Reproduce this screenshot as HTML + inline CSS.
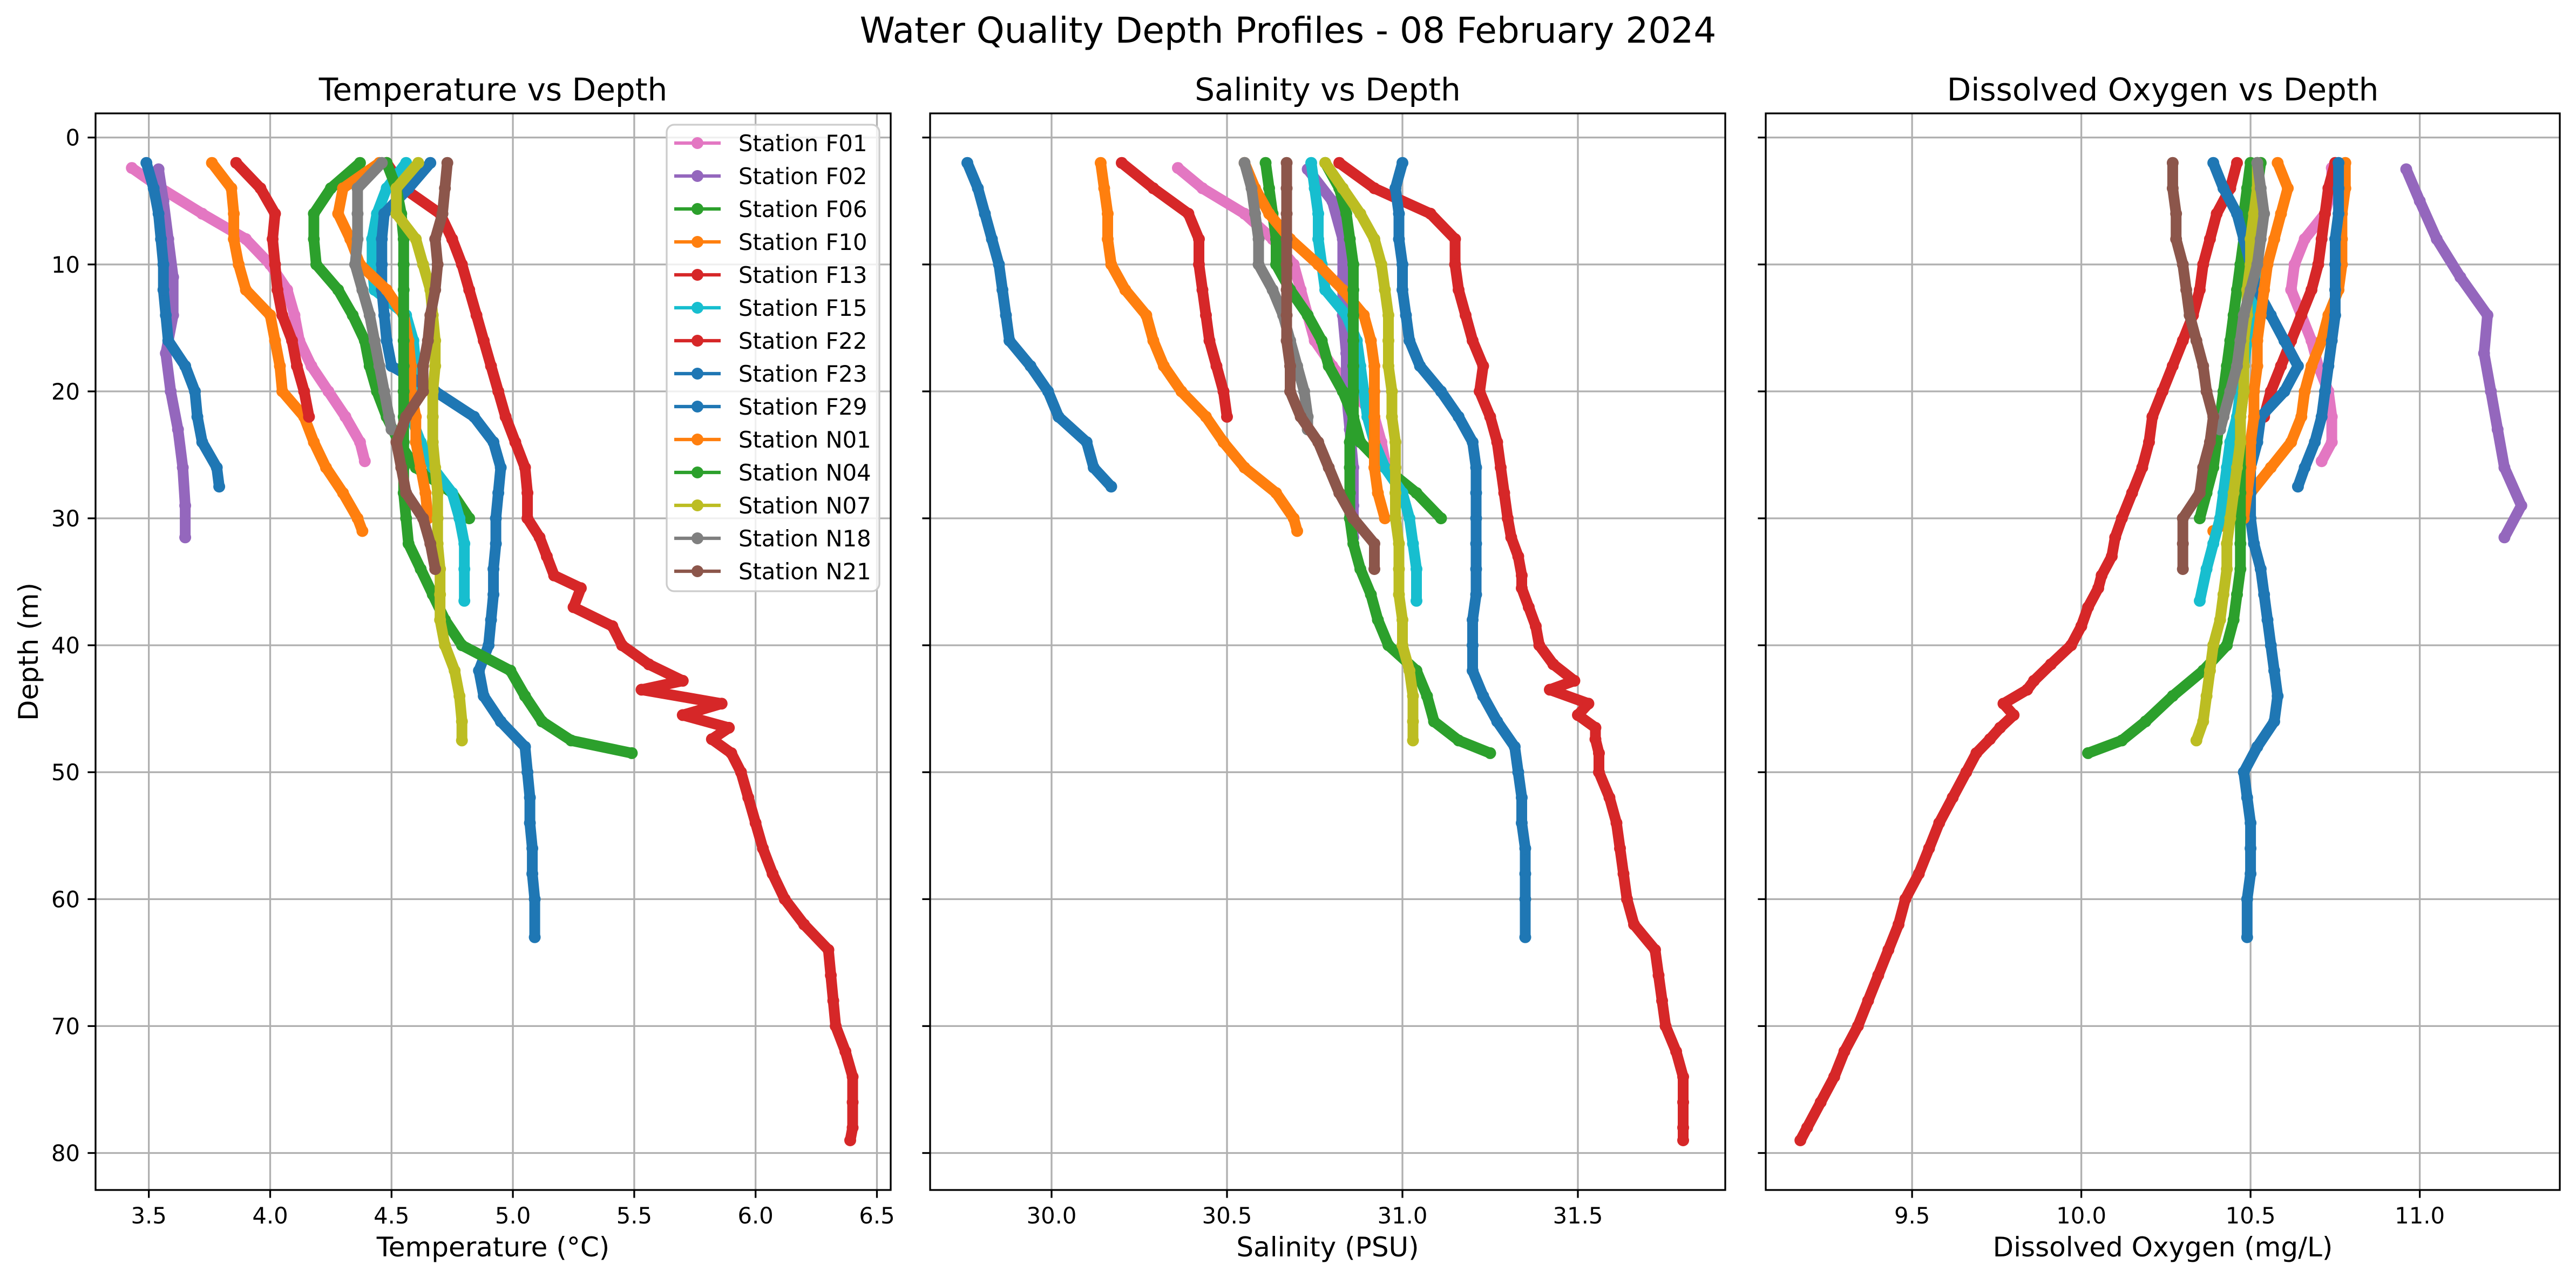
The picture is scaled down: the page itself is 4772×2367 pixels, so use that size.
<!DOCTYPE html>
<html><head><meta charset="utf-8"><title>Water Quality Depth Profiles</title>
<style>html,body{margin:0;padding:0;background:#fff}svg{display:block}text{font-family:"DejaVu Sans","Liberation Sans",sans-serif}</style>
</head><body>
<svg id="chart" xmlns="http://www.w3.org/2000/svg" width="4772" height="2367" viewBox="0 0 4772 2367"></svg>
<script>
const stationNames = ["Station F01","Station F02","Station F06","Station F10","Station F13","Station F15","Station F22","Station F23","Station F29","Station N01","Station N04","Station N07","Station N18","Station N21"];
const depthF01=[2.4,4,6,8,10,12,14,16,18,20,22,24,25.5];
const tempF01=[3.43,3.55,3.72,3.9,4.0,4.07,4.1,4.12,4.17,4.24,4.31,4.37,4.39];
const salF01=[30.36,30.43,30.55,30.63,30.69,30.71,30.73,30.75,30.8,30.86,30.92,30.94,30.95];
const doF01=[10.74,10.74,10.72,10.66,10.63,10.62,10.65,10.68,10.7,10.73,10.74,10.74,10.71];
const depthF02=[2.5,5,8,11,14,17,20,23,26,29,31.5];
const tempF02=[3.54,3.56,3.58,3.6,3.6,3.57,3.59,3.62,3.64,3.65,3.65];
const salF02=[30.73,30.8,30.83,30.83,30.83,30.84,30.84,30.85,30.86,30.86,30.86];
const doF02=[10.96,11.0,11.05,11.12,11.2,11.19,11.21,11.23,11.25,11.3,11.25];
const depthF06=[2,4,6,8,10,12,14,16,18,20,22,24,26,28,30];
const tempF06=[4.37,4.25,4.18,4.18,4.19,4.28,4.34,4.39,4.41,4.44,4.48,4.53,4.6,4.75,4.82];
const salF06=[30.61,30.62,30.63,30.64,30.64,30.68,30.73,30.77,30.79,30.83,30.86,30.88,30.95,31.04,31.11];
const doF06=[10.5,10.49,10.48,10.48,10.47,10.46,10.45,10.44,10.43,10.42,10.41,10.4,10.39,10.37,10.35];
const depthF10=[2,4,6,8,10,12,14,16,18,20,22,24,26,28,30,31];
const tempF10=[3.76,3.84,3.85,3.85,3.87,3.9,4.0,4.02,4.04,4.05,4.14,4.18,4.23,4.3,4.36,4.38];
const salF10=[30.14,30.15,30.16,30.16,30.17,30.21,30.27,30.29,30.32,30.37,30.44,30.49,30.55,30.64,30.69,30.7];
const doF10=[10.78,10.78,10.77,10.77,10.77,10.76,10.73,10.71,10.68,10.66,10.65,10.62,10.56,10.5,10.45,10.39];
const depthF13=[2,4,6,8,10,12,14,16,18,20,22,24,26,28,30,31.5,33,34.5,35.5,37,38.5,40,41.5,42.8,43.5,44.6,45.5,46.5,47.4,48.5,50,52,54,56,58,60,62,64,66,68,70,72,74,76,78,79];
const tempF13=[4.48,4.55,4.7,4.75,4.79,4.82,4.85,4.88,4.91,4.94,4.97,5.01,5.05,5.06,5.06,5.11,5.14,5.17,5.28,5.25,5.41,5.45,5.56,5.7,5.53,5.86,5.7,5.89,5.82,5.9,5.94,5.97,6.0,6.03,6.07,6.12,6.2,6.3,6.31,6.32,6.33,6.37,6.4,6.4,6.4,6.39];
const salF13=[30.82,30.92,31.08,31.15,31.15,31.16,31.18,31.2,31.23,31.22,31.25,31.27,31.28,31.29,31.3,31.31,31.33,31.34,31.34,31.36,31.38,31.39,31.43,31.49,31.42,31.53,31.5,31.55,31.55,31.56,31.56,31.59,31.61,31.62,31.63,31.64,31.66,31.72,31.73,31.74,31.75,31.78,31.8,31.8,31.8,31.8];
const doF13=[10.46,10.44,10.4,10.38,10.36,10.35,10.33,10.3,10.27,10.24,10.21,10.2,10.18,10.15,10.12,10.1,10.09,10.06,10.05,10.02,10.0,9.97,9.91,9.86,9.84,9.77,9.8,9.76,9.73,9.69,9.66,9.62,9.58,9.55,9.52,9.48,9.46,9.43,9.4,9.37,9.34,9.3,9.27,9.23,9.19,9.17];
const depthF15=[2,4,6,8,10,12,14,16,18,20,22,24,26,28,30,32,34,36.5];
const tempF15=[4.56,4.48,4.44,4.42,4.42,4.43,4.56,4.59,4.6,4.59,4.58,4.62,4.67,4.75,4.78,4.8,4.8,4.8];
const salF15=[30.74,30.75,30.76,30.76,30.77,30.78,30.84,30.87,30.88,30.89,30.9,30.92,30.95,31.0,31.02,31.03,31.04,31.04];
const doF15=[10.52,10.52,10.52,10.52,10.52,10.51,10.5,10.49,10.48,10.47,10.46,10.44,10.43,10.42,10.41,10.39,10.37,10.35];
const depthF22=[2,4,6,8,10,12,14,16,18,20,22];
const tempF22=[3.86,3.96,4.02,4.01,4.02,4.03,4.05,4.09,4.11,4.14,4.16];
const salF22=[30.2,30.29,30.39,30.42,30.42,30.43,30.44,30.45,30.47,30.49,30.5];
const doF22=[10.75,10.73,10.72,10.71,10.7,10.68,10.65,10.62,10.59,10.56,10.54];
const depthF23=[2,4,6,8,10,12,14,16,18,20,22,24,26,27.5];
const tempF23=[3.49,3.52,3.54,3.55,3.56,3.56,3.57,3.58,3.65,3.69,3.70,3.72,3.78,3.79];
const salF23=[29.76,29.79,29.81,29.83,29.85,29.86,29.87,29.88,29.94,29.99,30.02,30.1,30.12,30.17];
const doF23=[10.76,10.76,10.76,10.75,10.75,10.75,10.75,10.74,10.73,10.72,10.71,10.69,10.66,10.64];
const depthF29=[2,4,6,8,10,12,14,16,18,20,22,24,26,28,30,32,34,36,38,40,42,44,46,48,50,52,54,56,58,60,63];
const tempF29=[4.66,4.57,4.47,4.46,4.46,4.46,4.47,4.48,4.5,4.68,4.84,4.92,4.95,4.94,4.93,4.93,4.92,4.92,4.91,4.9,4.86,4.88,4.95,5.05,5.06,5.07,5.07,5.08,5.08,5.09,5.09];
const salF29=[31.0,30.98,30.99,30.99,31.0,31.0,31.01,31.02,31.05,31.11,31.16,31.2,31.21,31.21,31.21,31.21,31.21,31.21,31.2,31.2,31.2,31.23,31.27,31.32,31.33,31.34,31.34,31.35,31.35,31.35,31.35];
const doF29=[10.39,10.42,10.46,10.48,10.5,10.52,10.56,10.6,10.64,10.6,10.53,10.52,10.5,10.5,10.5,10.51,10.53,10.54,10.55,10.56,10.57,10.58,10.57,10.52,10.48,10.49,10.5,10.5,10.5,10.49,10.49];
const depthN01=[2,4,6,8,10,12,14,16,18,20,22,24,26,28,30];
const tempN01=[4.45,4.3,4.28,4.33,4.37,4.48,4.55,4.57,4.58,4.58,4.6,4.6,4.62,4.64,4.65];
const salN01=[30.55,30.58,30.62,30.68,30.76,30.83,30.89,30.91,30.92,30.92,30.92,30.92,30.92,30.93,30.95];
const doN01=[10.58,10.61,10.59,10.57,10.55,10.54,10.53,10.52,10.52,10.51,10.51,10.5,10.5,10.49,10.48];
const depthN04=[2,4,6,8,10,12,14,16,18,20,22,24,26,28,30,32,34,36,38,40,42,44,46,47.5,48.5];
const tempN04=[4.48,4.52,4.54,4.55,4.55,4.55,4.55,4.55,4.55,4.55,4.55,4.55,4.55,4.55,4.56,4.57,4.62,4.67,4.72,4.79,4.99,5.05,5.12,5.24,5.49];
const salN04=[30.78,30.82,30.84,30.85,30.86,30.86,30.86,30.86,30.86,30.86,30.86,30.85,30.85,30.85,30.85,30.86,30.88,30.91,30.93,30.96,31.04,31.07,31.09,31.16,31.25];
const doN04=[10.53,10.52,10.51,10.5,10.5,10.49,10.49,10.48,10.48,10.48,10.47,10.47,10.47,10.47,10.47,10.47,10.47,10.46,10.45,10.43,10.36,10.27,10.19,10.12,10.02];
const depthN07=[2,4,6,8,10,12,14,16,18,20,22,24,26,28,30,32,34,36,38,40,42,44,46,47.5];
const tempN07=[4.61,4.52,4.52,4.6,4.63,4.66,4.67,4.68,4.68,4.67,4.67,4.67,4.68,4.69,4.69,4.69,4.7,4.7,4.7,4.72,4.76,4.78,4.79,4.79];
const salN07=[30.78,30.83,30.88,30.92,30.94,30.95,30.96,30.96,30.96,30.97,30.97,30.98,30.98,30.98,30.98,30.99,30.99,30.99,31.0,31.0,31.02,31.03,31.03,31.03];
const doN07=[10.52,10.52,10.51,10.5,10.5,10.49,10.49,10.48,10.48,10.48,10.47,10.47,10.46,10.45,10.44,10.43,10.43,10.42,10.41,10.39,10.38,10.37,10.36,10.34];
const depthN18=[2,4,6,8,10,12,14,16,18,20,22,23];
const tempN18=[4.46,4.36,4.36,4.36,4.35,4.38,4.41,4.43,4.45,4.47,4.49,4.5];
const salN18=[30.55,30.57,30.58,30.59,30.59,30.63,30.66,30.68,30.7,30.72,30.73,30.73];
const doN18=[10.52,10.53,10.54,10.53,10.52,10.5,10.48,10.47,10.46,10.44,10.42,10.41];
const depthN21=[2,4,6,8,10,12,14,16,18,20,22,24,26,28,30,32,34];
const tempN21=[4.73,4.72,4.71,4.68,4.69,4.68,4.66,4.65,4.63,4.63,4.56,4.52,4.54,4.56,4.63,4.66,4.68];
const salN21=[30.67,30.67,30.67,30.67,30.67,30.67,30.67,30.67,30.68,30.68,30.71,30.76,30.79,30.82,30.86,30.92,30.92];
const doN21=[10.27,10.27,10.28,10.28,10.3,10.31,10.32,10.34,10.36,10.37,10.39,10.38,10.36,10.35,10.3,10.3,10.3];
const depthTicks=[0,10,20,30,40,50,60,70,80];
const tempTicks=[3.5,4.0,4.5,5.0,5.5,6.0,6.5];
const salTicks=[30.0,30.5,31.0,31.5];
const doTicks=[9.5,10.0,10.5,11.0];

const stationDepths=[depthF01,depthF02,depthF06,depthF10,depthF13,depthF15,depthF22,depthF23,depthF29,depthN01,depthN04,depthN07,depthN18,depthN21];
const stationTemps=[tempF01,tempF02,tempF06,tempF10,tempF13,tempF15,tempF22,tempF23,tempF29,tempN01,tempN04,tempN07,tempN18,tempN21];
const stationSals=[salF01,salF02,salF06,salF10,salF13,salF15,salF22,salF23,salF29,salN01,salN04,salN07,salN18,salN21];
const stationDOs=[doF01,doF02,doF06,doF10,doF13,doF15,doF22,doF23,doF29,doN01,doN04,doN07,doN18,doN21];
const palette=["#e377c2","#9467bd","#2ca02c","#ff7f0e","#d62728","#17becf","#d62728","#1f77b4","#1f77b4","#ff7f0e","#2ca02c","#bcbd22","#7f7f7f","#8c564b"];

const NS="http://www.w3.org/2000/svg";
const svg=document.getElementById('chart');
function mk(tag,attrs,parent){const e=document.createElementNS(NS,tag);for(const k in attrs)e.setAttribute(k,attrs[k]);(parent||svg).appendChild(e);return e;}
const yTop=210,yBot=2204;
function yScale(d){return 254.7+d*23.51;}
const panels=[
 {key:'temperature',title:'Temperature vs Depth',xlabel:'Temperature (°C)',x0:177,x1:1650,sc:v=>275.7+(v-3.5)*449.6,ticks:tempTicks,vals:stationTemps,fmt:v=>v.toFixed(1)},
 {key:'salinity',title:'Salinity vs Depth',xlabel:'Salinity (PSU)',x0:1723,x1:3196,sc:v=>1948+(v-30)*650,ticks:salTicks,vals:stationSals,fmt:v=>v.toFixed(1)},
 {key:'oxygen',title:'Dissolved Oxygen vs Depth',xlabel:'Dissolved Oxygen (mg/L)',x0:3271,x1:4742,sc:v=>3855.6+(v-10)*627,ticks:doTicks,vals:stationDOs,fmt:v=>v.toFixed(1)}
];

const sup=mk('text',{x:2386,y:79,'text-anchor':'middle','font-size':66});
sup.textContent='Water Quality Depth Profiles - 08 February 2024';



panels.forEach((p,pi)=>{
  const g=mk('g',{});
  
  
  const clipId='clip'+pi;
  const cp=mk('clipPath',{id:clipId},g);
  mk('rect',{x:p.x0,y:yTop,width:p.x1-p.x0,height:yBot-yTop},cp);
  p.ticks.forEach(t=>{const gl=mk('line',{x1:p.sc(t),x2:p.sc(t),y1:yTop,y2:yBot,stroke:'#b0b0b0','stroke-width':3.3},g);
    
    });
  depthTicks.forEach(t=>{const gl=mk('line',{x1:p.x0,x2:p.x1,y1:yScale(t),y2:yScale(t),stroke:'#b0b0b0','stroke-width':3.3},g);
    
    });
  const sg=mk('g',{'clip-path':'url(#'+clipId+')'},g);
  stationNames.forEach((nm,si)=>{
    const ds=stationDepths[si],vs=p.vals[si],c=palette[si];
    const pts=ds.map((d,i)=>p.sc(vs[i]).toFixed(1)+','+yScale(d).toFixed(1)).join(' ');
    const ser=mk('g',{},sg);
    
    
    const band=mk('polyline',{points:pts,fill:'none',stroke:c,'stroke-width':20,'stroke-linejoin':'round','stroke-linecap':'round'},ser);
    
    
    ds.forEach((d,i)=>{const m=mk('circle',{cx:p.sc(vs[i]).toFixed(1),cy:yScale(d).toFixed(1),r:11,fill:c},ser);
      
      });
  });
  const fr=mk('rect',{x:p.x0,y:yTop,width:p.x1-p.x0,height:yBot-yTop,fill:'none',stroke:'#000','stroke-width':3.3},g);
  
  
  p.ticks.forEach(t=>{const x=p.sc(t);
    mk('line',{x1:x,x2:x,y1:yBot,y2:yBot+14.6,stroke:'#000','stroke-width':3.3},g);
    const tl=mk('text',{x:x,y:2266,'text-anchor':'middle','font-size':41.7},g);
    tl.textContent=p.fmt(t);
    
    });
  depthTicks.forEach(t=>{const y=yScale(t);
    mk('line',{x1:p.x0-14.6,x2:p.x0,y1:y,y2:y,stroke:'#000','stroke-width':3.3},g);
    if(pi===0){const tl=mk('text',{x:p.x0-29,y:y+15,'text-anchor':'end','font-size':41.7},g);
      tl.textContent=String(t);
      
      }});
  const tt=mk('text',{x:(p.x0+p.x1)/2,y:186,'text-anchor':'middle','font-size':58},g);
  tt.textContent=p.title;
  
  
  const xl=mk('text',{x:(p.x0+p.x1)/2,y:2327,'text-anchor':'middle','font-size':50},g);
  xl.textContent=p.xlabel;
  
  
});
const yl=mk('text',{x:0,y:0,'text-anchor':'middle','font-size':50,transform:'translate(70,1207) rotate(-90)'});
yl.textContent='Depth (m)';



const lg=mk('g',{});


mk('rect',{x:1235,y:231,width:394,height:864,rx:14,fill:'#fff','fill-opacity':0.8,stroke:'#cccccc','stroke-width':3.3},lg);
stationNames.forEach((nm,si)=>{
  const cy=265+si*61;
  const e=mk('g',{},lg);
  
  
  mk('line',{x1:1249,x2:1335,y1:cy,y2:cy,stroke:palette[si],'stroke-width':6.2},e);
  mk('circle',{cx:1292,cy:cy,r:11,fill:palette[si]},e);
  const t=mk('text',{x:1368,y:cy+15,'font-size':41.7},e);
  t.textContent=nm;
});
</script>
</body></html>
